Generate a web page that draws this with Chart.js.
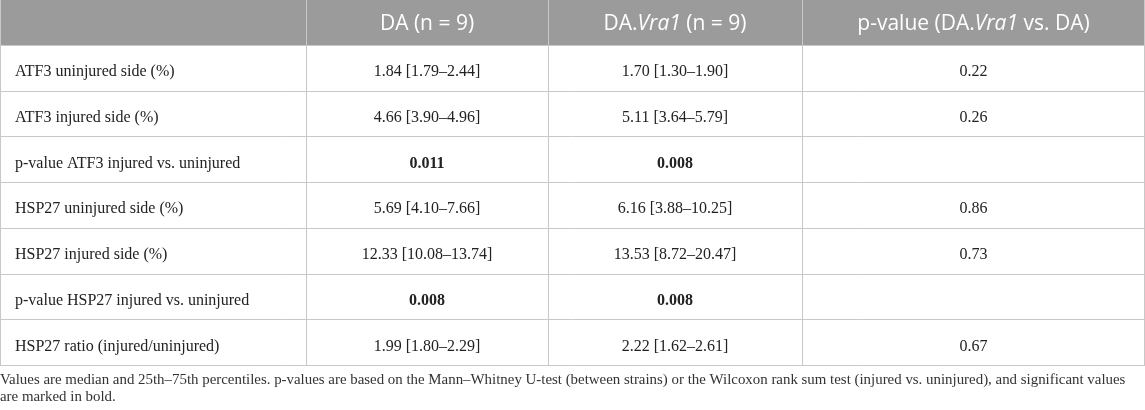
<!DOCTYPE html>
<html><head><meta charset="utf-8">
<script src="https://cdn.jsdelivr.net/npm/chart.js@4.4.0/dist/chart.umd.min.js"></script>
<style>html,body{margin:0;padding:0;background:#fff;overflow:hidden;}#wrap{width:1145px;height:410px;}</style>
</head><body><div id="wrap"><canvas id="c" width="1145" height="410"></canvas></div>
<script>
// ---- data ----
const columnHeaders = ["", "DA (n = 9)", "DA.*Vra1* (n = 9)", "p-value (DA.*Vra1* vs. DA)"];
const rowLabels = [
  "ATF3 uninjured side (%)",
  "ATF3 injured side (%)",
  "p-value ATF3 injured vs. uninjured",
  "HSP27 uninjured side (%)",
  "HSP27 injured side (%)",
  "p-value HSP27 injured vs. uninjured",
  "HSP27 ratio (injured/uninjured)"
];
const daValues = ["1.84 [1.79–2.44]", "4.66 [3.90–4.96]", "0.011", "5.69 [4.10–7.66]", "12.33 [10.08–13.74]", "0.008", "1.99 [1.80–2.29]"];
const vra1Values = ["1.70 [1.30–1.90]", "5.11 [3.64–5.79]", "0.008", "6.16 [3.88–10.25]", "13.53 [8.72–20.47]", "0.008", "2.22 [1.62–2.61]"];
const strainPValues = ["0.22", "0.26", "", "0.86", "0.73", "", "0.67"];
const boldRows = [false, false, true, false, false, true, false];
const footnoteLines = [
  "Values are median and 25th–75th percentiles. p-values are based on the Mann–Whitney U-test (between strains) or the Wilcoxon rank sum test (injured vs. uninjured), and significant values",
  "are marked in bold."
];

// ---- layout (not data) ----
const colEdges = [0, 306, 548, 802, 1145];
const HEADER_BG = '#9b9b9b';
const GRID = '#c8c8c8';
const BODY_FONT = '16px "Liberation Serif", "DejaVu Serif", serif';
const HEAD_FONT = '21px "Open Sans", "Noto Sans", sans-serif';

function parseSegs(str){
  const parts = str.split('*');
  return parts.map((t,i)=>({t, italic: i%2===1})).filter(s=>s.t.length);
}
function drawSegs(ctx, segs, x, y, align, baseFont, bold){
  const fonts = segs.map(s => (s.italic?'italic ':'') + (bold?'bold ':'') + baseFont);
  const widths = segs.map((s,i)=>{ctx.font=fonts[i]; return ctx.measureText(s.t).width;});
  const total = widths.reduce((a,b)=>a+b,0);
  let cx = align==='center' ? x-total/2 : x;
  ctx.textAlign='left';
  segs.forEach((s,i)=>{ctx.font=fonts[i]; ctx.fillText(s.t,cx,y); cx+=widths[i];});
}

const tablePlugin = {
  id: 'tablePlugin',
  afterDraw(chart){
    const ctx = chart.ctx, xs = chart.scales.x, ys = chart.scales.y;
    const n = ys.getLabels().length;
    const top = chart.chartArea.top, bottom = chart.chartArea.bottom;
    const band = (bottom-top)/n;
    const ex = colEdges.map(v=>xs.getPixelForValue(v));
    ctx.save();
    // header background
    const hc = ys.getPixelForValue(0);
    ctx.fillStyle = HEADER_BG;
    ctx.fillRect(ex[0], hc-band/2, ex[ex.length-1]-ex[0], band);
    // grid lines
    ctx.strokeStyle = GRID; ctx.lineWidth = 1;
    ctx.beginPath();
    for(let i=1;i<=n;i++){
      const yy = Math.round(ys.getPixelForValue(i-1)+band/2) - 0.5;
      ctx.moveTo(ex[0], yy); ctx.lineTo(ex[ex.length-1], yy);
    }
    ex.forEach((xx,i)=>{
      let px = Math.round(xx)+0.5;
      if(i===ex.length-1) px = Math.round(xx)-0.5;
      ctx.moveTo(px, top); ctx.lineTo(px, bottom);
    });
    ctx.stroke();
    // header texts
    ctx.fillStyle = '#ffffff';
    columnHeaders.forEach((h,c)=>{
      if(!h) return;
      drawSegs(ctx, parseSegs(h), (ex[c]+ex[c+1])/2, hc+7.5, 'center', HEAD_FONT, false);
    });
    // body
    ctx.fillStyle = '#222222';
    rowLabels.forEach((lab,r)=>{
      const cy = ys.getPixelForValue(r+1) + 7.5;
      drawSegs(ctx, [{t:lab}], ex[0]+15, cy, 'left', BODY_FONT, false);
      drawSegs(ctx, [{t:daValues[r]}], (ex[1]+ex[2])/2, cy, 'center', BODY_FONT, boldRows[r]);
      drawSegs(ctx, [{t:vra1Values[r]}], (ex[2]+ex[3])/2, cy, 'center', BODY_FONT, boldRows[r]);
      if(strainPValues[r]) drawSegs(ctx, [{t:strainPValues[r]}], (ex[3]+ex[4])/2, cy, 'center', BODY_FONT, false);
    });
    ctx.restore();
  }
};

new Chart(document.getElementById('c'), {
  type: 'scatter',
  data: { datasets: [] },
  options: {
    responsive: false,
    animation: false,
    layout: { padding: 0 },
    scales: {
      x: { type: 'linear', min: colEdges[0], max: colEdges[colEdges.length-1], display: false },
      y: { type: 'category', labels: ['header'].concat(rowLabels), offset: true, display: false }
    },
    plugins: {
      legend: { display: false },
      tooltip: { enabled: false },
      title: {
        display: true, position: 'bottom', align: 'start',
        text: footnoteLines, color: '#333333',
        font: { family: '"Liberation Serif", "DejaVu Serif", serif', size: 14.9, weight: 'normal', lineHeight: '17px' },
        padding: { top: 6, bottom: 4 }
      }
    }
  },
  plugins: [tablePlugin]
});
</script></body></html>
